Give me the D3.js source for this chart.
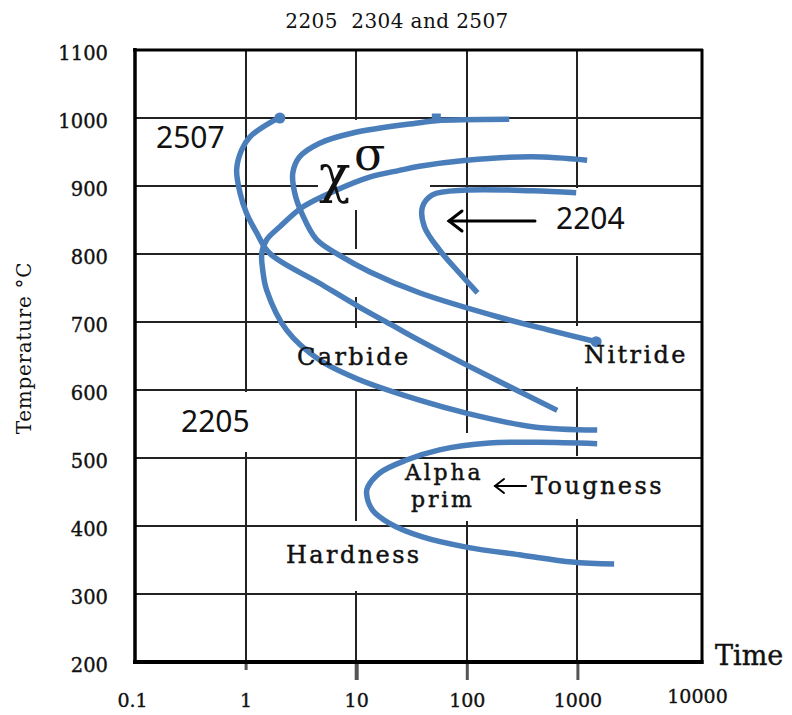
<!DOCTYPE html>
<html>
<head>
<meta charset="utf-8">
<script src="https://cdn.jsdelivr.net/npm/d3@7/dist/d3.min.js"></script>
<style>
  body { margin: 0; background: #fff; }
  svg text { font-family: "DejaVu Serif", serif; fill: #111; }
  .grid line { stroke: #222; stroke-width: 2; shape-rendering: crispEdges; }
  .curve { fill: none; stroke: #4a7ebb; stroke-width: 5.5; stroke-linecap: butt; }
  .big-num { font-family: "Noto Sans", sans-serif; font-size: 30px; }
  .label { font-size: 24px; letter-spacing: 2.4px; stroke: #111; stroke-width: 0.45px; }
  .tick text { stroke: #111; stroke-width: 0.35px; }
</style>
</head>
<body>
<div id="chart"></div>
<script>
// Global config
var TIME_TICKS = [0.1, 1, 10, 100, 1000, 10000];
var TEMP_TICKS = [200, 300, 400, 500, 600, 700, 800, 900, 1000, 1100];
var GRID_TIMES = [1, 10, 100, 1000];

// curves: [time, temperature °C]
var CURVE_2507 = [[2.04, 1000], [1.65, 993], [1.09, 972], [0.92, 953], [0.83, 924], [0.89, 890],
  [1.02, 860], [1.26, 831], [1.65, 801], [4.67, 757], [10.7, 722], [21.3, 695], [37.3, 673],
  [99, 637], [657, 570]];
var CURVE_SIGMA = [[242, 998], [53, 996], [37.3, 993], [9.3, 978], [4.67, 963], [3.08, 943],
  [2.67, 919], [2.78, 890], [3.22, 860], [4.39, 821], [7.08, 798], [13.2, 774], [37.3, 743],
  [197, 707], [556, 688], [1478, 671]];
var CURVE_2205 = [[1225, 938], [391, 943], [99, 938], [37.3, 929], [24.6, 923], [13.2, 913],
  [6.65, 894], [3.28, 869], [2.04, 840], [1.55, 821], [1.4, 801], [1.43, 776], [1.55, 747],
  [2.35, 688], [4.67, 644], [10.7, 615], [37.3, 585], [99, 566], [391, 546], [1510, 541]];
var CURVE_2204 = [[975, 890], [391, 893], [99, 894], [48.9, 887], [39.7, 869], [41.4, 840],
  [56.6, 806], [85.8, 772], [125, 743]];
var CURVE_ALPHA = [[1510, 521], [452, 523], [160, 522], [56.6, 512], [28.5, 497], [16.3, 478],
  [12.7, 457], [12.4, 448], [14.1, 423], [20.0, 404], [39.7, 384], [99, 369], [318, 357],
  [898, 347], [2148, 344]];

var CURVES = [CURVE_2507, CURVE_SIGMA, CURVE_2205, CURVE_2204, CURVE_ALPHA];
var DOTS = [[2.04, 1000], [1478, 671]];
var SQUARES = [[53, 1000]];

var render = function() {
  var width = 792;
  var height = 715;
  var plot = { left: 135, right: 702, top: 50, bottom: 662 };

  var svg = d3.select("#chart").append("svg")
    .attr("width", width)
    .attr("height", height);

  var xScale = d3.scaleLog().domain([0.1, 10000]).range([plot.left, 688]);
  var yScale = d3.scaleLinear().domain([200, 1100]).range([plot.bottom, plot.top]);

  // vertical grid
  svg.append("g").attr("class", "grid")
    .selectAll("line").data(GRID_TIMES).enter().append("line")
    .attr("x1", d => Math.round(xScale(d))).attr("x2", d => Math.round(xScale(d)))
    .attr("y1", plot.top).attr("y2", plot.bottom);

  // white boxes behind the labels break the vertical lines
  var masks = [
    [330, 249, 385, 297], [330, 328, 385, 389], [232, 392, 258, 452], [330, 521, 385, 591],
    [455, 433, 480, 521], [568, 456, 592, 519], [568, 326, 592, 387], [568, 188, 592, 256]
  ];
  svg.append("g").selectAll("rect").data(masks).enter().append("rect")
    .attr("x", d => d[0]).attr("y", d => d[1])
    .attr("width", d => d[2] - d[0]).attr("height", d => d[3] - d[1])
    .attr("fill", "#fff");

  // horizontal grid
  svg.append("g").attr("class", "grid")
    .selectAll("line").data(TEMP_TICKS.slice(1)).enter().append("line")
    .attr("x1", plot.left).attr("x2", plot.right)
    .attr("y1", d => Math.round(yScale(d))).attr("y2", d => Math.round(yScale(d)));

  // box behind chi sigma
  svg.append("rect").attr("x", 318).attr("y", 120).attr("width", 112).attr("height", 90)
    .attr("fill", "#fff");

  // axes
  var xAxis = d3.axisBottom(xScale)
    .tickValues(TIME_TICKS)
    .tickSize(18)
    .tickPadding(14)
    .tickFormat(d => String(d));
  var gx = svg.append("g")
    .attr("transform", "translate(0," + plot.bottom + ")")
    .call(xAxis);
  gx.select(".domain").remove();
  gx.selectAll(".tick line")
    .attr("stroke", "#555")
    .attr("stroke-width", d => d === 10 ? 4 : 3)
    .attr("y2", d => d === 1 ? 8 : (d === 0.1 || d === 10000 ? 0 : 18));
  gx.selectAll(".tick text")
    .attr("font-family", "DejaVu Serif")
    .attr("font-size", 19)
    .attr("fill", "#111")
    .attr("dx", d => d === 0.1 ? -3 : (d === 10000 ? 9 : 0))
    .attr("dy", d => d === 10000 ? "0.45em" : "0.71em");

  var yAxis = d3.axisLeft(yScale)
    .tickValues(TEMP_TICKS)
    .tickSize(0)
    .tickPadding(27)
    .tickFormat(d3.format("d"));
  var gy = svg.append("g")
    .attr("transform", "translate(" + plot.left + ",0)")
    .call(yAxis);
  gy.select(".domain").remove();
  gy.selectAll(".tick text")
    .attr("font-family", "DejaVu Serif")
    .attr("font-size", 19.5)
    .attr("fill", "#111")
    .attr("dy", "0.5em");

  // curves
  var line = d3.line()
    .x(d => xScale(d[0]))
    .y(d => yScale(d[1]))
    .curve(d3.curveCatmullRom.alpha(0.5));

  svg.append("g").selectAll("path").data(CURVES).enter().append("path")
    .attr("class", "curve")
    .attr("d", line);

  svg.append("g").selectAll("circle").data(DOTS).enter().append("circle")
    .attr("cx", d => xScale(d[0])).attr("cy", d => yScale(d[1]))
    .attr("r", 5.5).attr("fill", "#4a7ebb");
  svg.append("g").selectAll("rect").data(SQUARES).enter().append("rect")
    .attr("x", d => xScale(d[0]) - 4.5).attr("y", d => yScale(d[1]) - 4.5)
    .attr("width", 9).attr("height", 9).attr("fill", "#4a7ebb");

  // frame
  var frame = svg.append("g").attr("stroke", "#000").attr("fill", "none");
  frame.append("line").attr("x1", plot.left).attr("x2", plot.left)
    .attr("y1", plot.top - 2).attr("y2", plot.bottom + 2).attr("stroke-width", 3.5);
  frame.append("line").attr("x1", plot.left - 2).attr("x2", plot.right + 1)
    .attr("y1", plot.top).attr("y2", plot.top).attr("stroke-width", 3);
  frame.append("line").attr("x1", plot.right).attr("x2", plot.right)
    .attr("y1", plot.top - 1).attr("y2", plot.bottom + 2).attr("stroke-width", 3);
  frame.append("line").attr("x1", plot.left - 2).attr("x2", plot.right + 1.5)
    .attr("y1", plot.bottom).attr("y2", plot.bottom).attr("stroke-width", 4);

  // titles
  svg.append("text").attr("x", 397).attr("y", 28).attr("text-anchor", "middle")
    .attr("font-size", 20).attr("letter-spacing", 0.4)
    .text("2205\u00a0\u00a02304 and 2507");
  svg.append("text").attr("x", 715).attr("y", 665).attr("font-size", 27)
    .attr("stroke", "#111").attr("stroke-width", 0.4)
    .text("Time");
  svg.append("text")
    .attr("transform", "translate(31,348) rotate(-90)")
    .attr("text-anchor", "middle").attr("font-size", 20).attr("letter-spacing", 0.7)
    .text("Temperature °C");

  // annotations
  svg.append("text").attr("class", "big-num").attr("x", 156).attr("y", 148).text("2507");
  svg.append("text").attr("class", "big-num").attr("x", 181).attr("y", 432).text("2205");
  svg.append("text").attr("class", "big-num").attr("x", 556).attr("y", 229).text("2204");

  svg.append("text").attr("x", 319).attr("y", 192).attr("font-size", 52).text("χ");
  svg.append("text").attr("x", 354).attr("y", 170).attr("font-size", 46).text("σ");

  svg.append("text").attr("class", "label").attr("x", 297).attr("y", 365).text("Carbide");
  svg.append("text").attr("class", "label").attr("x", 584).attr("y", 363).text("Nitride");
  svg.append("text").attr("class", "label").attr("x", 286).attr("y", 563).text("Hardness");
  svg.append("text").attr("class", "label").attr("x", 405).attr("y", 480)
    .style("font-size", "22px").style("letter-spacing", "2.8px").text("Alpha");
  svg.append("text").attr("class", "label").attr("x", 411).attr("y", 507)
    .style("font-size", "22px").style("letter-spacing", "2.8px").text("prim");
  svg.append("text").attr("class", "label").attr("x", 531).attr("y", 494).text("Tougness");

  // arrows
  var arrows = svg.append("g").attr("stroke", "#000").attr("fill", "none")
    .attr("stroke-linecap", "round");
  arrows.append("line").attr("x1", 535).attr("x2", 449).attr("y1", 221).attr("y2", 221)
    .attr("stroke-width", 3);
  arrows.append("polyline").attr("points", "462,211 449,221 462,231").attr("stroke-width", 3);
  arrows.append("line").attr("x1", 526).attr("x2", 495).attr("y1", 486).attr("y2", 486)
    .attr("stroke-width", 2);
  arrows.append("polyline").attr("points", "504,479 495,486 504,493").attr("stroke-width", 2);
};

window.onload = render;
</script>
</body>
</html>
